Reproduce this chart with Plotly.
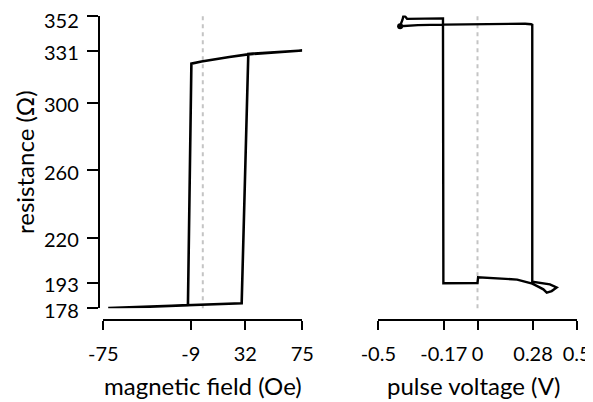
import plotly.graph_objects as go

# page body has an 8px margin; the figure is sized to fill the rest of the window
OFF = 8
W, H = 593 - OFF, 402 - OFF

# ---- data: left panel (magnetic field sweep) ----
field = [75, 50, 34, 20, 7, -1, -8.6, -11.2, -40, -71.3, -40, -11.2, 10, 29.3, 34.3, 50, 75]
res_field = [331.2, 330.0, 328.9, 327.3, 325.8, 324.6, 323.4, 179.8, 178.9, 178.1, 178.9, 179.8, 180.3, 180.9, 329.2, 330.0, 331.2]

# ---- data: right panel (pulse voltage sweep) ----
volt = [-0.39, -0.30, -0.172, 0.0, 0.15, 0.24, 0.27, 0.276, 0.276, 0.365, 0.399, 0.374, 0.349, 0.332, 0.306, 0.276,
        0.2, 0.1, 0.003, 0.0, -0.1, -0.172, -0.174, -0.30, -0.355, -0.372, -0.378, -0.39]
res_volt = [345.6, 346.3, 346.6, 346.9, 347.0, 347.1, 346.8, 346.5, 193.8, 192.2, 190.3, 188.2, 187.3, 189.2, 190.8, 192.6,
            195.0, 195.8, 196.4, 192.9, 192.8, 192.8, 350.3, 350.1, 350.0, 352.4, 349.5, 345.8]
start_volt = [-0.39]
start_res = [345.6]

x1_ticks = [-75, -9, 32, 75]
x2_ticks = [-0.5, -0.17, 0, 0.28, 0.5]
x2_ticktext = ["-0.5", "-0.17", "0", "0.28", "0.5"]
y_ticks = [178, 193, 220, 260, 300, 331, 352]

FONT = "Lato"

def px_x(p):
    return (p - OFF) / W

def px_y(p):
    return (OFF + H - p) / H

fig = go.Figure()
fig.add_trace(go.Scatter(x=field, y=res_field, mode="lines",
                         line=dict(color="black", width=2.6), xaxis="x", yaxis="y",
                         hoverinfo="skip", showlegend=False))
fig.add_trace(go.Scatter(x=volt, y=res_volt, mode="lines",
                         line=dict(color="black", width=2.4), xaxis="x2", yaxis="y2",
                         hoverinfo="skip", showlegend=False))
fig.add_trace(go.Scatter(x=start_volt, y=start_res, mode="markers",
                         marker=dict(color="black", size=6), xaxis="x2", yaxis="y2",
                         hoverinfo="skip", showlegend=False))

ydom = [px_y(308.2), px_y(15.5)]
tickfont = dict(family=FONT, size=20, color="black")

common_x = dict(showgrid=False, zeroline=False, showline=True, linecolor="black", linewidth=2,
                ticks="outside", ticklen=9, tickwidth=2, tickcolor="black", tickfont=tickfont,
                anchor="free", position=px_y(320), fixedrange=True, automargin=False, tickangle=0,
                ticklabelstandoff=7, ticklabeloverflow="allow")

fig.update_layout(
    width=W, height=H,
    margin=dict(l=0, r=0, t=0, b=0, pad=0, autoexpand=False),
    paper_bgcolor="white", plot_bgcolor="white",
    xaxis=dict(domain=[px_x(103.3), px_x(302.3)], range=[-75, 75],
               tickmode="array", tickvals=x1_ticks, ticktext=[str(v) for v in x1_ticks], **common_x),
    xaxis2=dict(domain=[px_x(378.3), px_x(576.7)], range=[-0.5, 0.5],
                tickmode="array", tickvals=x2_ticks, ticktext=x2_ticktext, **common_x),
    yaxis=dict(domain=ydom, range=[178, 352], anchor="free", position=px_x(98.5),
               showgrid=False, zeroline=False, showline=True, linecolor="black", linewidth=2,
               ticks="outside", ticklen=11, tickwidth=2, tickcolor="black",
               tickmode="array", tickvals=y_ticks, showticklabels=False,
               fixedrange=True, automargin=False),
    yaxis2=dict(domain=ydom, range=[178, 352], anchor="x2", visible=False, fixedrange=True, automargin=False),
    font=dict(family=FONT, color="black"),
)

# y tick labels placed on the y scale (slightly below their ticks, as in the reference)
for v in y_ticks:
    fig.add_annotation(text=str(v), xref="paper", yref="y", x=px_x(81), y=v,
                       xanchor="right", yanchor="middle", showarrow=False, font=tickfont,
                       yshift=-4 if v == y_ticks[-1] else -1.5)

for xr, yr in (("x", "y"), ("x2", "y2")):
    fig.add_shape(type="line", xref=xr, yref=yr + " domain", x0=0, x1=0, y0=0, y1=1,
                  line=dict(color="#c4c4c4", width=2, dash="4px,4px"), layer="below")

titlefont = dict(family=FONT, size=24, color="black")
fig.add_annotation(text="magnetic field (Oe)", xref="paper", yref="paper", x=px_x(203.3), y=px_y(385.5),
                   xanchor="center", yanchor="middle", showarrow=False, font=titlefont)
fig.add_annotation(text="pulse voltage (V)", xref="paper", yref="paper", x=px_x(473), y=px_y(385.5),
                   xanchor="center", yanchor="middle", showarrow=False, font=titlefont)
fig.add_annotation(text="resistance (Ω)", xref="paper", yref="paper", x=px_x(25), y=px_y(162),
                   xanchor="center", yanchor="middle", showarrow=False, font=titlefont, textangle=-90)

fig.write_html("out.html")
